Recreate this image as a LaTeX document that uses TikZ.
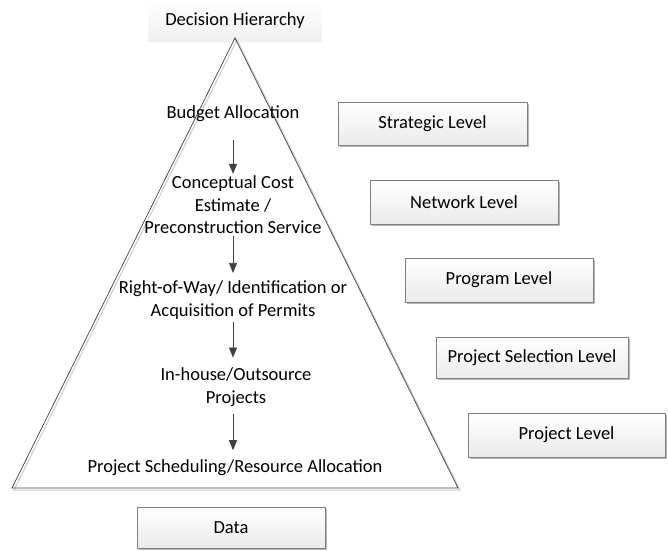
\documentclass[tikz,border=0pt]{standalone}
\usepackage{fontspec}
\setmainfont{Carlito}
\usetikzlibrary{arrows.meta,shadows}
\definecolor{linegray}{HTML}{404040}
\definecolor{boxborder}{HTML}{7F7F7F}
\begin{document}
\begin{tikzpicture}[x=1pt,y=-1pt,
  lvl/.style={draw=boxborder, line width=0.8pt, top color=white, bottom color=gray!16,
    drop shadow={shadow xshift=1.5pt, shadow yshift=-1.5pt, fill=gray!70, opacity=0.8},
    inner sep=0pt, font=\fontsize{18.5}{22}\selectfont},
  headbox/.style={top color=white, bottom color=gray!12, inner sep=0pt,
    font=\fontsize{18.5}{22}\selectfont},
  txt/.style={align=center, inner sep=2pt, font=\fontsize{18.5}{22.5}\selectfont},
  flow/.style={draw=linegray, line width=0.8pt, -{Triangle[length=10pt,width=8pt]}}]
\useasboundingbox (0,0) rectangle (668,550);

% header
\node[headbox, minimum width=174pt, minimum height=41pt] (head) at (235,20.5) {Decision Hierarchy};

% triangle with shadow
\draw[gray!40, line width=1pt] (237,40) -- (14,490) -- (460,490) -- cycle;
\draw[linegray, line width=0.7pt] (235,38) -- (12,488) -- (458,488) -- cycle;

% texts inside triangle
\node[txt] (budget) at (233,113.4) {Budget Allocation};
\node[txt] (cost) at (233,205) {Conceptual Cost\\Estimate /\\Preconstruction Service};
\node[txt] (row) at (233,300.3) {Right-of-Way/ Identification or\\Acquisition of Permits};
\node[txt] (inhouse) at (236,387) {In-house/Outsource\\Projects};
\node[txt] (sched) at (235,467.4) {Project Scheduling/Resource Allocation};

\draw[flow, shorten <=16pt] (budget.south) -- (budget.south |- cost.north);
\draw[flow, shorten >=6pt] (cost.south) -- (cost.south |- row.north);
\draw[flow, shorten >=8pt] (row.south) -- (row.south |- inhouse.north);
\draw[flow, shorten <=6pt, shorten >=7pt] (inhouse.south -| row.south) -- (row.south |- sched.north);

% level boxes
\node[lvl, minimum width=189pt, minimum height=43pt] (strat) at (432.5,123.5) {Strategic Level};
\node[lvl, minimum width=188pt, minimum height=44pt] (net) at (464,202) {Network Level};
\node[lvl, minimum width=188pt, minimum height=44pt] (prog) at (499,280) {Program Level};
\node[lvl, minimum width=192pt, minimum height=41pt] (psel) at (532,357.5) {Project Selection Level};
\node[lvl, minimum width=197pt, minimum height=44pt] (plev) at (566.5,435) {Project Level};
\node[lvl, minimum width=188pt, minimum height=41pt] (data) at (231,527.5) {Data};
\end{tikzpicture}
\end{document}
